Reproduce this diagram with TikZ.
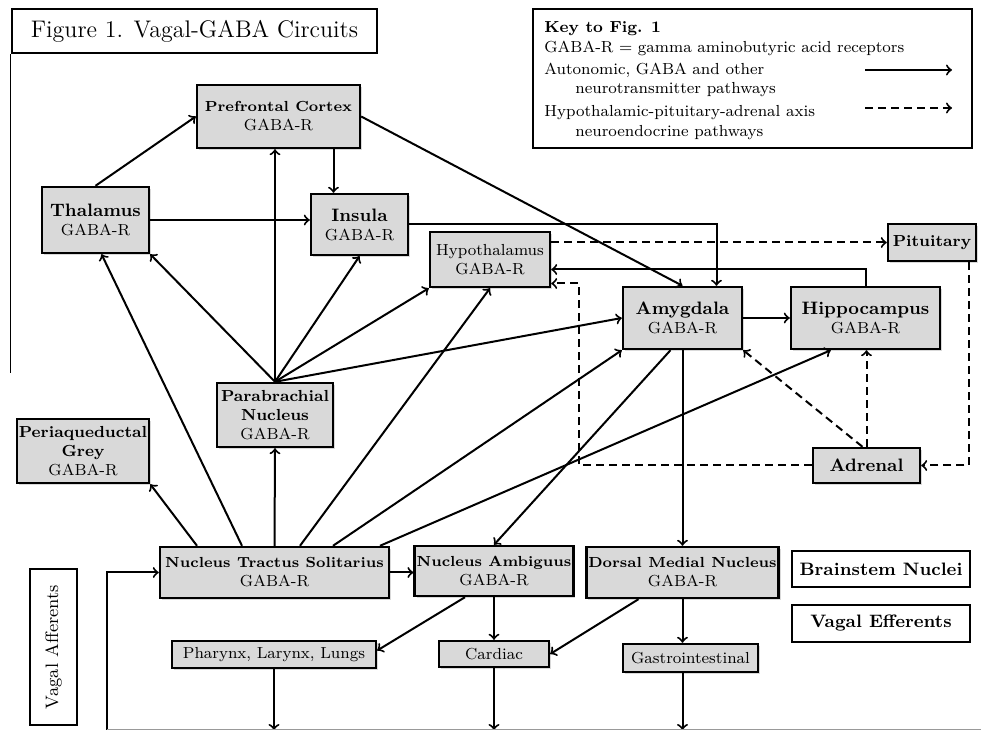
\documentclass[tikz,border=0pt]{standalone}
\usepackage{tikz}
\usetikzlibrary{arrows,shapes,shadows,calc}

\tikzset{
  region/.style={draw, line width=1.2pt, fill=black!15, align=center, inner sep=1pt,
    font=\footnotesize, drop shadow={shadow xshift=1pt, shadow yshift=-1pt, opacity=0.3}},
  labelbox/.style={draw, line width=1.2pt, fill=white, inner sep=1pt},
  conn/.style={->, line width=1pt},
  hpa/.style={->, line width=1pt, dash pattern=on 4pt off 2.5pt},
  keytext/.style={anchor=west, inner sep=0pt, font=\footnotesize}
}
\newcommand{\stemname}[1]{{\fontsize{7.3}{9}\selectfont\bfseries #1}}

\begin{document}
\begin{tikzpicture}[x=0.5pt, y=-0.5pt, >=to]
\useasboundingbox (0,0) rectangle (981,731);

	% title and key
	\node[labelbox, minimum width=182.5pt, minimum height=22pt, font=\large] (title) at (194.5,31) {Figure 1. Vagal-GABA Circuits};
	\draw[line width=0.6pt] (title.south west) -- ++(0,319);

	\node[labelbox, minimum width=219.5pt, minimum height=69.5pt] (key) at (752.5,78.5) {};
	\node[keytext, font=\footnotesize\bfseries] (keyhead) at (544,29) {Key to Fig. 1};
	\node[keytext] (keygaba) at (544,48) {GABA-R = gamma aminobutyric acid receptors};
	\node[keytext] (keyauto) at (544,70) {Autonomic, GABA and other};
	\node[keytext] (keyneuro) at (575,90) {neurotransmitter pathways};
	\node[keytext] (keyhpa) at (544,113) {Hypothalamic-pituitary-adrenal axis};
	\node[keytext] (keyendo) at (575,133) {neuroendocrine pathways};
	\coordinate (solidA) at (865,70);
	\coordinate (solidB) at (952,70);
	\coordinate (dashA) at (865,108);
	\coordinate (dashB) at (952,108);
	\draw[conn] (solidA) -- (solidB);
	\draw[hpa] (dashA) -- (dashB);

	% brain regions
	\node[region, minimum width=81.5pt, minimum height=31.5pt] (pfc) at (278.5,116.5) {\stemname{Prefrontal Cortex}\\GABA-R};
	\node[region, minimum width=53.5pt, minimum height=33pt] (thal) at (95.5,220) {{\small\bfseries Thalamus}\\GABA-R};
	\node[region, minimum width=48.5pt, minimum height=30.5pt] (ins) at (359.5,224.5) {{\small\bfseries Insula}\\GABA-R};
	\node[region, minimum width=60pt, minimum height=27.5pt] (hyp) at (490,259.5) {Hypothalamus\\GABA-R};
	\node[region, minimum width=44pt, minimum height=18.5pt, font=\footnotesize\bfseries] (pit) at (932,242.5) {Pituitary};
	\node[region, minimum width=59.5pt, minimum height=31pt] (amy) at (682.5,318) {{\small\bfseries Amygdala}\\GABA-R};
	\node[region, minimum width=74.5pt, minimum height=31pt] (hip) at (865.5,318) {{\small\bfseries Hippocampus}\\GABA-R};
	\node[region, minimum width=58pt, minimum height=32pt] (pbn) at (275,415) {\textbf{Parabrachial}\\\textbf{Nucleus}\\GABA-R};
	\node[region, minimum width=65pt, minimum height=32pt] (pag) at (83,451) {\textbf{Periaqueductal}\\\textbf{Grey}\\GABA-R};
	\node[region, minimum width=53.5pt, minimum height=17.5pt, font=\small\bfseries] (adr) at (866.5,465.5) {Adrenal};

	% brainstem nuclei and vagal efferents
	\node[region, minimum width=114.5pt, minimum height=25.5pt] (nts) at (274.5,572.5) {\stemname{Nucleus Tractus Solitarius}\\GABA-R};
	\node[region, minimum width=79pt, minimum height=25pt] (na) at (494,571) {\stemname{Nucleus Ambiguus}\\GABA-R};
	\node[region, minimum width=95.5pt, minimum height=25.5pt] (dmn) at (682.5,572.5) {\stemname{Dorsal Medial Nucleus}\\GABA-R};
	\node[region, minimum width=102pt, minimum height=13.5pt] (phx) at (274,654.5) {Pharynx, Larynx, Lungs};
	\node[region, minimum width=55pt, minimum height=13pt] (card) at (494,654) {Cardiac};
	\node[region, minimum width=67.5pt, minimum height=14pt] (gi) at (690.5,658) {Gastrointestinal};

	\node[labelbox, minimum width=89pt, minimum height=18pt, font=\small\bfseries] (bsn) at (881,569) {Brainstem Nuclei};
	\node[labelbox, minimum width=89pt, minimum height=18.5pt, font=\small\bfseries] (eff) at (881,623.5) {Vagal Efferents};
	\node[labelbox, rotate=90, minimum width=78pt, minimum height=23.5pt, font=\small] (aff) at (53.5,647) {Vagal Afferents};

	% cortical pathways
	\draw[conn] (thal.north) -- (pfc.west);
	\coordinate (pfcins) at ([xshift=-13pt]ins.north);
	\draw[conn] (pfc.south -| pfcins) -- (pfcins);
	\draw[conn] (thal.east) -- (thal.east -| ins.west);
	\draw[conn] (pfc.east) -- (amy.north);
	\draw[conn] (ins.east) -| ([xshift=17pt]amy.north);
	\draw[conn] (hip.north) |- ([yshift=-5pt]hyp.east);
	\draw[conn] (amy.east) -- (hip.west);

	% parabrachial
	\foreach \t in {thal.south east, ins.south, hyp.south west, amy.west}
		\draw[conn] (pbn.north) -- (\t);
	\draw[conn] (pbn.north) -- (pbn.north |- pfc.south);

	% nucleus tractus solitarius
	\draw[conn] ([xshift=-38.75pt]nts.north) -- (pag.south east);
	\draw[conn] ([xshift=-16.25pt]nts.north) -- ([xshift=3pt]thal.south);
	\draw[conn] (nts.north) -- (pbn.south);
	\draw[conn] ([xshift=12.75pt]nts.north) -- (hyp.south);
	\draw[conn] ([xshift=29.25pt]nts.north) -- (amy.south west);
	\draw[conn] ([xshift=52.75pt]nts.north) -- ([xshift=20.5pt]hip.south west);
	\draw[conn] (nts.east) -- (nts.east -| na.west);

	% efferent side
	\draw[conn] ([xshift=-6pt]amy.south) -- (na.north);
	\draw[conn] (amy.south) -- (dmn.north);
	\draw[conn] ([xshift=-14.5pt]na.south) -- ([yshift=2pt]phx.east);
	\draw[conn] (na.south) -- (card.north);
	\draw[conn] ([xshift=-22pt]dmn.south) -- (card.east);
	\draw[conn] (dmn.south) -- (dmn.south |- gi.north);

	% back to the NTS
	\coordinate (base) at (107,730);
	\foreach \n in {phx, card}
		\draw[conn] (\n.south) -- (\n.south |- base);
	\draw[conn] (dmn.south |- gi.south) -- (dmn.south |- base);
	\draw[conn] (base) |- (nts.west);
	\draw[line width=0.5pt, black!40] (base) -- (981,730);

	% HPA axis
	\draw[hpa] (pit.west -| hyp.east) -- (pit.west);
	\draw[hpa] ([xshift=18.5pt]pit.south) |- (adr.east);
	\draw[hpa] (adr.north) -- (adr.north |- hip.south);
	\draw[hpa] ([xshift=-2pt]adr.north) -- (amy.south east);
	\draw[hpa] (adr.west) -| ([xshift=14pt,yshift=-12pt]hyp.east) -- ([yshift=-12pt]hyp.east);

\end{tikzpicture}
\end{document}
